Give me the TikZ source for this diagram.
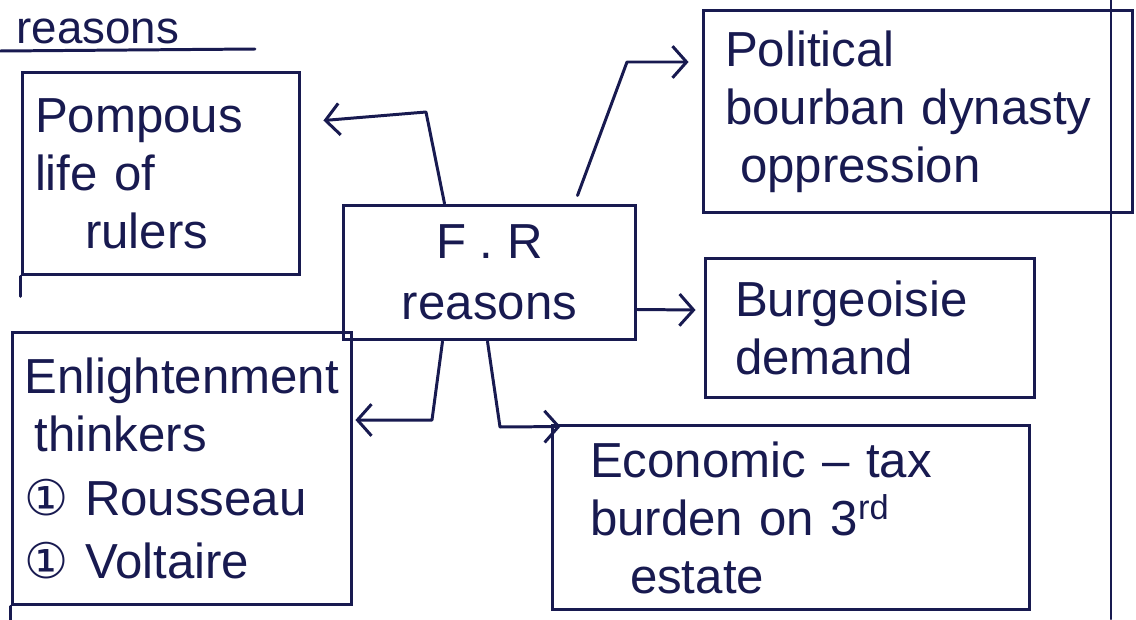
\documentclass[tikz,border=0pt]{standalone}
\usepackage{fontspec}
\setmainfont{Liberation Sans}
\newfontfamily\symfont{DejaVu Sans}
\usetikzlibrary{arrows.meta,calc}
\definecolor{ink}{RGB}{24,26,80}
\begin{document}
\begin{tikzpicture}[x=0.02cm,y=-0.02cm,line width=1.7pt,
  font=\fontsize{28}{33}\selectfont,
  box/.style={draw=ink,rectangle,inner ysep=0pt,align=left,text=ink},
  arr/.style={draw=ink,-{Straight Barb[length=8pt,width=18pt]},line join=round,line cap=round},
  ink line/.style={draw=ink,line cap=round}]
\fill[white] (0,0) rectangle (1136,619);
\useasboundingbox (0,0) rectangle (1136,619);
% heading
\node[anchor=base west,text=ink,inner sep=0pt,font=\fontsize{26}{30}\selectfont] (title) at (15,43) {reasons};
\draw[ink line] (0,51) -- (255,49);
% page margin line
\draw[ink line,line width=1.2pt] (1111,0) -- (1111,619);
% boxes
\node[box,inner xsep=0.26cm,text width=5.04cm,minimum height=4.06cm] (pomp) at (161,173.5)
  {Pompous\\life of\\\hspace*{1cm}rulers};
\node[box,align=center,minimum width=5.86cm,minimum height=2.7cm] (fr) at (489.5,272.5)
  {F . R\\[2pt]reasons};
\node[box,inner xsep=0.44cm,text width=7.72cm,minimum height=4.06cm] (pol) at (918,111.5)
  {Political\\bourban dynasty\\\hspace*{0.3cm}oppression};
\node[box,inner xsep=0.6cm,text width=5.4cm,minimum height=2.8cm] (burg) at (870,328)
  {Burgeoisie\\demand};
\node[box,inner xsep=0.25cm,text width=6.3cm,minimum height=5.46cm] (enl) at (182,468.5)
  {Enlightenment\\\hspace*{0.2cm}thinkers\\[3pt]{\symfont ①} Rousseau\\[3pt]{\symfont ①} Voltaire};
\node[box,inner xsep=0.76cm,text width=8.04cm,minimum height=3.7cm] (eco) at (791,517.5)
  {Economic -- tax\\burden on 3\textsuperscript{rd}\\\hspace*{0.8cm}estate};
% small overshoots of the hand-drawn boxes
\draw[ink line] (pomp.south west) -- ++(0,20);
\draw[ink line] (enl.south west) -- ++(0,16);
% connectors
\draw[arr] ($(fr.north)+(-45,0)$) -- (426,112) -- ($(pomp.east)+(22,-53)$);
\draw[arr] ($(fr.north)+(88,-8)$) -- (627,62) -- ($(pol.west)+(-13,-49.5)$);
\draw[arr] ($(fr.east)+(0,37)$) -- ($(burg.west)+(-8,-18)$);
\draw[arr] ($(fr.south)+(-47,0)$) -- (432,420) -- ($(enl.east)+(2,-48.5)$);
\draw[arr] ($(fr.south)+(-2,0)$) -- (500,427) -- ($(eco.north west)+(10,3)$);
\end{tikzpicture}
\end{document}
